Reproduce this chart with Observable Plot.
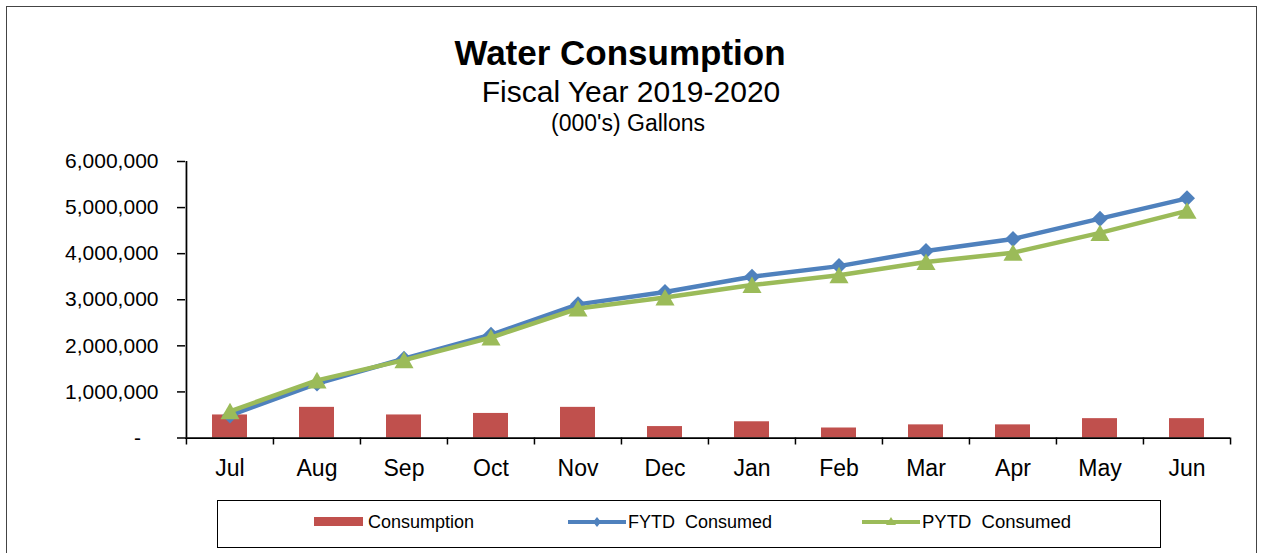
<!DOCTYPE html>
<html><head><meta charset="utf-8">
<script src="https://cdn.jsdelivr.net/npm/d3@7"></script>
<script src="https://cdn.jsdelivr.net/npm/@observablehq/plot@0.6"></script>
<style>
body{margin:0;background:#fff;font-family:"Liberation Sans",Arial,sans-serif;}
#page{position:relative;width:1261px;height:553px;overflow:hidden;background:#fff;}
#frame{position:absolute;left:6px;top:6px;width:1249px;height:600px;border:1px solid #444;}
.t{position:absolute;width:600px;text-align:center;line-height:1;white-space:nowrap;color:#000;}
#chart{position:absolute;left:0;top:150px;}
#legend{position:absolute;left:217px;top:500px;width:942px;height:46px;border:1px solid #000;background:#fff;}
.li{position:absolute;top:12px;font-size:18px;line-height:18px;white-space:pre;color:#000;}
.sw{position:absolute;}
</style>
</head><body>
<div id="page">
  <div id="frame"></div>
  <div class="t" style="left:320px;top:35px;font-size:35px;font-weight:bold;">Water Consumption</div>
  <div class="t" style="left:331px;top:77px;font-size:30px;">Fiscal Year 2019-2020</div>
  <div class="t" style="left:328px;top:112px;font-size:23px;">(000's) Gallons</div>
  <div id="chart"></div>
  <div id="legend">
    <div class="sw" style="left:96px;top:16px;width:49px;height:9px;background:#C0504D;"></div>
    <div class="li" style="left:150px;">Consumption</div>
    <svg class="sw" style="left:350px;top:13px;" width="58" height="16"><line x1="0" y1="8" x2="58" y2="8" stroke="#4F81BD" stroke-width="4"/><path d="M29,3 L33,8 L29,13 L25,8Z" fill="#4F81BD"/></svg>
    <div class="li" style="left:410px;">FYTD  Consumed</div>
    <svg class="sw" style="left:644px;top:13px;" width="58" height="16"><line x1="0" y1="8" x2="58" y2="8" stroke="#9BBB59" stroke-width="4"/><path d="M29,3 L34,11 L24,11Z" fill="#9BBB59"/></svg>
    <div class="li" style="left:704px;font-size:18.5px;">PYTD  Consumed</div>
  </div>
</div>
<script>
const months = ["Jul","Aug","Sep","Oct","Nov","Dec","Jan","Feb","Mar","Apr","May","Jun"];
const consumption = [500000, 665000, 500000, 533000, 665000, 248000, 352000, 217000, 285000, 285000, 420000, 420000];
const fytd = [490000, 1180000, 1720000, 2240000, 2900000, 3170000, 3500000, 3730000, 4060000, 4320000, 4760000, 5200000];
const pytd = [580000, 1250000, 1690000, 2180000, 2810000, 3050000, 3320000, 3530000, 3820000, 4020000, 4450000, 4930000];
const yTicks = [0, 1000000, 2000000, 3000000, 4000000, 5000000, 6000000];

const bars = months.map((m, i) => ({month: m, value: consumption[i]}));
const fy = months.map((m, i) => ({month: m, value: fytd[i]}));
const py = months.map((m, i) => ({month: m, value: pytd[i]}));

const W = 1261, H = 340, ML = 185, MR = 31, MT = 11, MB = 52.5;
const step = (W - ML - MR) / months.length;
const fmt = d3.format(",");

const chart = Plot.plot({
  width: W, height: H,
  marginLeft: ML, marginRight: MR, marginTop: MT, marginBottom: MB,
  style: {fontFamily: "'Liberation Sans', Arial, sans-serif", fontSize: "20px", color: "#000", background: "transparent"},
  x: {type: "band", domain: months, paddingInner: 0.6, paddingOuter: 0.3, axis: null, label: null},
  y: {domain: [0, 6000000], axis: null, label: null},
  marks: [
    Plot.barY(bars, {x: "month", y: "value", fill: "#C0504D"}),
    Plot.ruleY([0], {stroke: "#000", strokeWidth: 1.75}),
    Plot.ruleX([months[0]], {y1: 0, y2: 6000000, dx: -step / 2, stroke: "#000", strokeWidth: 1.75}),
    Plot.ruleX(months, {y1: 0, y2: 0, dx: -step / 2, insetBottom: -7, stroke: "#000", strokeWidth: 1.5}),
    Plot.ruleX([months[months.length - 1]], {y1: 0, y2: 0, dx: step / 2, insetBottom: -7, stroke: "#000", strokeWidth: 1.5}),
    Plot.axisY(yTicks, {tickSize: 8, tickPadding: 19, strokeWidth: 1.5, fontSize: 21, label: null,
      tickFormat: d => d === 0 ? "-\u00a0\u00a0\u00a0" : fmt(d)}),
    Plot.axisX(months, {tickSize: 0, tickPadding: 22, fontSize: 23, label: null}),
    Plot.line(fy, {x: "month", y: "value", stroke: "#4F81BD", strokeWidth: 4.5}),
    Plot.dot(fy, {x: "month", y: "value", symbol: "diamond2", r: 7.2, fill: "#4F81BD", stroke: "none"}),
    Plot.line(py, {x: "month", y: "value", stroke: "#9BBB59", strokeWidth: 4.5}),
    Plot.dot(py, {x: "month", y: "value", symbol: "triangle", r: 7.1, dy: 2.5, fill: "#9BBB59", stroke: "none"})
  ]
});
document.getElementById("chart").appendChild(chart);
</script>
</body></html>
